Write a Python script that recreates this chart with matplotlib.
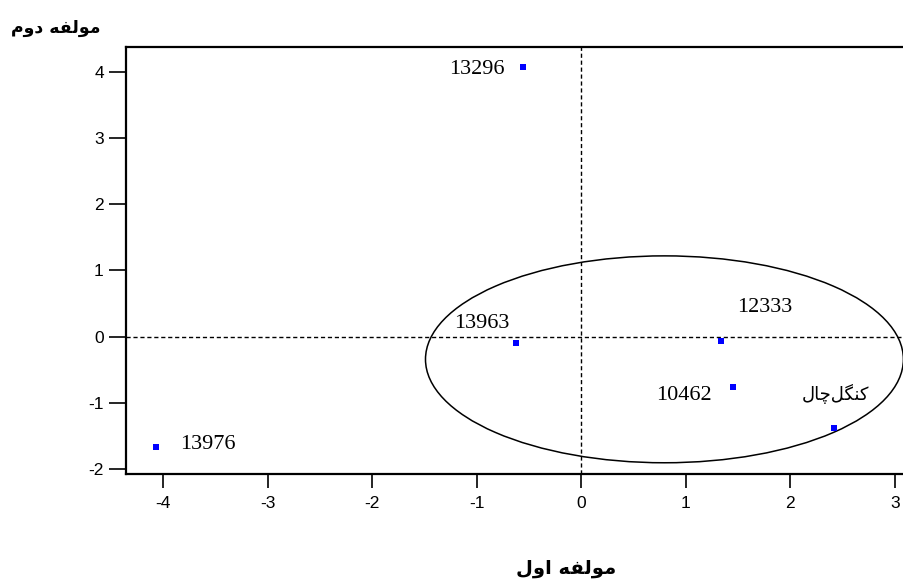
import matplotlib
matplotlib.use("Agg")
import matplotlib.pyplot as plt
from matplotlib.patches import Ellipse

# ---- data ----
labels = ["13296", "13963", "12333", "10462",
          "\uFEDD\uFE8E\uFB7C\uFEDE\uFB95\uFEE8\uFB90",  # کنگل‌چال (pre-shaped, visual order)
          "13976"]
comp1 = [-0.56, -0.62, 1.34, 1.45, 2.42, -4.07]
comp2 = [4.08, -0.10, -0.065, -0.76, -1.39, -1.67]
xticks = [-4, -3, -2, -1, 0, 1, 2, 3]
yticks = [-2, -1, 0, 1, 2, 3, 4]
ellipse_center = (0.795, -0.345)
ellipse_size = (4.57, 3.13)
xlabel = "\uFEDD\uFEED\uFE8D \uFEEA\uFED4\uFEDF\uFEEE\uFEE3"   # مولفه اول
ylabel = "\uFEE1\uFEED\uFEA9 \uFEEA\uFED4\uFEDF\uFEEE\uFEE3"   # مولفه دوم

# label placement (pixels offset from point)
offsets = [(-18, -3, "right"), (-35, 20, "center"), (43, 33, "center"),
           (-21, -9, "right"), (1, 34, "center"), (24, 2, "left")]

fig = plt.figure(figsize=(9.04, 5.84), dpi=100)
ax = fig.add_axes([126/904, (584-474)/584, 1 - 126/904, (474-47)/584])
ax.set_xlim(-4.354, 3.086)
ax.set_ylim(-2.08, 4.38)

ax.axhline(0, color="black", lw=1, ls=(0, (3, 2)), zorder=1)
ax.axvline(0, color="black", lw=1, ls=(0, (3, 2)), zorder=1)

ax.add_patch(Ellipse(ellipse_center, ellipse_size[0], ellipse_size[1],
                     fill=False, edgecolor="black", lw=1.1, zorder=2))

ax.scatter(comp1, comp2, marker="s", s=16, color="#0000ff", zorder=3, linewidths=0)

for lab, x, y, (dx, dy, ha) in zip(labels, comp1, comp2, offsets):
    if lab.isdigit():
        fam = ["Liberation Serif", "DejaVu Serif"]
        fs = 16
    else:
        fam = ["DejaVu Sans"]
        fs = 13
    ax.annotate(lab, (x, y), xytext=(dx, dy), textcoords="offset pixels",
                ha=ha, va="center", fontsize=fs, family=fam, color="black", zorder=4)

ax.set_xticks(xticks)
ax.set_yticks(yticks)
ax.set_xticklabels([str(t) for t in xticks], family="Liberation Sans", fontsize=12.5)
ax.set_yticklabels([str(t) for t in yticks], family="Liberation Sans", fontsize=12.5)
ax.tick_params(axis="y", direction="out", length=12, width=1.2, pad=4)
ax.tick_params(axis="x", direction="out", length=10, width=1.2, pad=6)

for s in ["left", "bottom", "top"]:
    ax.spines[s].set_linewidth(1.6)
ax.spines["right"].set_visible(False)

fig.text(56/904, 1 - 28/584, ylabel, ha="center", va="center",
         fontsize=12.5, fontweight="bold", family=["DejaVu Sans"])
fig.text(566/904, 1 - 568/584, xlabel, ha="center", va="center",
         fontsize=14, fontweight="bold", family=["DejaVu Sans"])

fig.savefig("out.png", dpi=100)
